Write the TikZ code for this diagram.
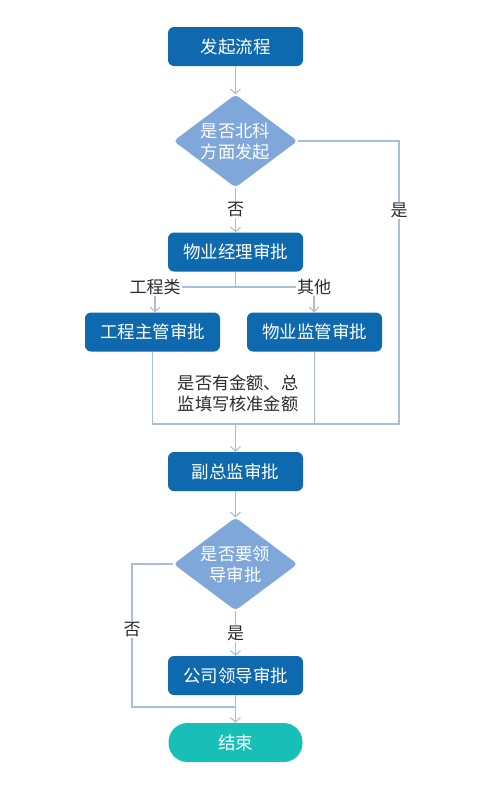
\documentclass[tikz,border=0pt]{standalone}
\usepackage{fontspec}
\setmainfont{Noto Sans CJK SC}
\usetikzlibrary{shapes.geometric,arrows.meta}
\definecolor{boxblue}{HTML}{0F69AE}
\definecolor{diablue}{HTML}{7FA7DA}
\definecolor{endteal}{HTML}{17BFB6}
\definecolor{linec}{HTML}{A8BEDC}
\definecolor{txt}{HTML}{2B2B2B}
\begin{document}
\begin{tikzpicture}[x=1pt,y=-1pt,
  proc/.style={draw=none,fill=boxblue,rounded corners=6pt,minimum width=135pt,minimum height=39pt,text=white,font=\fontsize{17.5}{20}\selectfont,inner sep=0pt},
  dec/.style={draw=none,fill=diablue,diamond,aspect=1.33,minimum width=124pt,minimum height=93pt,text=white,font=\fontsize{17.3}{21}\selectfont,align=center,inner sep=0pt,rounded corners=4pt},
  term/.style={draw=none,fill=endteal,rounded corners=19pt,minimum width=134pt,minimum height=39pt,text=white,font=\fontsize{17.5}{20}\selectfont,inner sep=0pt},
  conn/.style={draw=linec,line width=1.3pt},
  arr/.style={conn,-{Straight Barb[length=4.5pt,width=10pt,line width=1.1pt]}},
  lab/.style={text=txt,font=\fontsize{17}{20}\selectfont,fill=white,inner sep=1pt},
  note/.style={text=txt,font=\fontsize{17.2}{21}\selectfont,align=left,inner sep=0pt}]
\useasboundingbox (0,0) rectangle (500,790);
\fill[white] (0,0) rectangle (500,790);

\node[proc] (start) at (235.5,46.5) {发起流程};
\node[dec] (d1) at (235.5,141) {是否北科\\方面发起};
\node[proc] (mgr) at (235.5,252) {物业经理审批};
\node[proc] (eng) at (152.5,332) {工程主管审批};
\node[proc] (sup) at (314.5,332) {物业监管审批};
\node[note] (amt) at (238,393) {是否有金额、总\\监填写核准金额};
\node[proc] (vp) at (235.5,471.5) {副总监审批};
\node[dec] (d2) at (235.5,564) {是否要领\\导审批};
\node[proc] (lead) at (235.5,675.5) {公司领导审批};
\node[term] (end) at (235.5,742.5) {结束};

\coordinate (yesR) at (399,141);
\coordinate (merge) at (235.5,424);
\coordinate (mgrJ) at (235.5,287);
\coordinate (noL) at (132,564);
\coordinate (endJ) at (235.5,707);

% start -> d1
\draw[arr] (start.south) -- (d1.north);
% d1 -> mgr (no)
\draw[arr] (d1.south) -- node[lab,pos=0.5] {否} (mgr.north);
% d1 yes branch
\draw[conn] (d1.east) -- (yesR) -- node[lab,pos=0.245] {是} (399,424) -- (merge);
% mgr split
\draw[conn] (mgr.south) -- (mgrJ);
\node[lab] (lEng) at (155,287) {工程类};
\node[lab] (lOth) at (314,287) {其他};
\draw[conn] (lEng.east) -- (lOth.west);
\draw[arr] (lEng.south) -- (lEng.south |- eng.north);
\draw[arr] (lOth.south) -- (lOth.south |- sup.north);
% merge
\draw[conn] (eng.south) -- (eng.south |- merge) -- (merge);
\draw[conn] (sup.south) -- (sup.south |- merge);
\draw[arr] (merge) -- (vp.north);
% vp -> d2
\draw[arr] (vp.south) -- (d2.north);
% d2 yes
\draw[arr] (d2.south) -- node[lab,pos=0.5] {是} (lead.north);
% d2 no
\draw[conn] (d2.west) -- (noL) -- node[lab,pos=0.46] {否} (noL |- endJ) -- (endJ);
% lead -> end
\draw[arr] (lead.south) -- (end.north);
\end{tikzpicture}
\end{document}
